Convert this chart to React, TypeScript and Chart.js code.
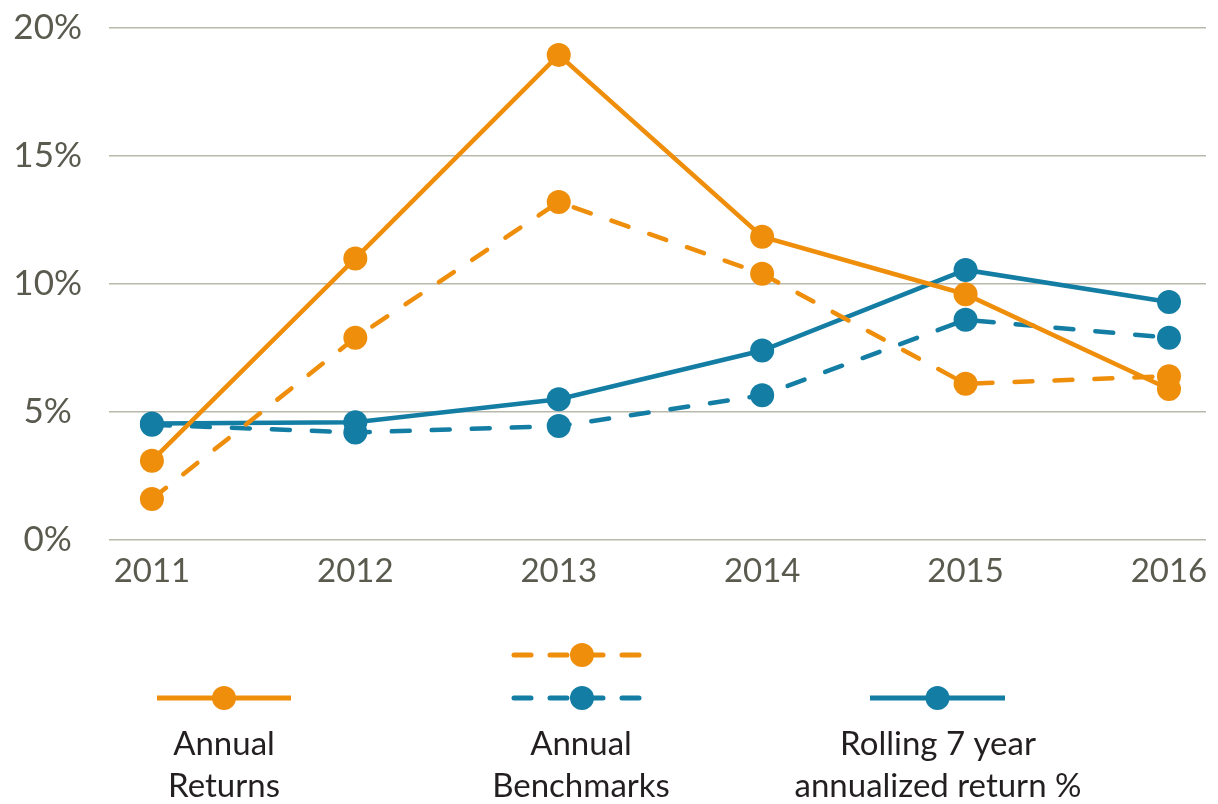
import React, { useEffect, useRef } from "react";
import { Chart, registerables } from "chart.js";

Chart.register(...registerables);

const years = [2011, 2012, 2013, 2014, 2015, 2016];
const annualReturns = [3.1, 11.0, 18.95, 11.85, 9.6, 5.9];
const orangeBenchmark = [1.6, 7.9, 13.2, 10.4, 6.1, 6.4];
const rollingReturn = [4.55, 4.6, 5.5, 7.4, 10.55, 9.3];
const blueBenchmark = [4.5, 4.2, 4.45, 5.65, 8.6, 7.9];
const yTickValues = [0, 5, 10, 15, 20];

const ORANGE = "#EE8E0B";
const BLUE = "#137DA4";
const GRID = "#b8b9ab";
const TICK = "#5a5a4f";
const FONT = "Lato, 'Open Sans', sans-serif";

const legendPlugin = {
  id: "customLegend",
  afterDraw(chart: any) {
    const ctx = chart.ctx as CanvasRenderingContext2D;
    ctx.save();
    const drawItem = (
      x1: number,
      x2: number,
      y: number,
      color: string,
      dashed: boolean
    ) => {
      ctx.strokeStyle = color;
      ctx.lineWidth = 5;
      if (dashed) {
        ctx.lineCap = "round";
        ctx.setLineDash([17, 19]);
      } else {
        ctx.lineCap = "butt";
        ctx.setLineDash([]);
      }
      ctx.beginPath();
      ctx.moveTo(x1, y);
      ctx.lineTo(x2, y);
      ctx.stroke();
      ctx.setLineDash([]);
      ctx.fillStyle = color;
      ctx.beginPath();
      ctx.arc((x1 + x2) / 2, y, 12, 0, Math.PI * 2);
      ctx.fill();
    };
    drawItem(157, 291, 698, ORANGE, false);
    drawItem(514, 650, 655, ORANGE, true);
    drawItem(514, 650, 698, BLUE, true);
    drawItem(870, 1005, 698, BLUE, false);

    ctx.fillStyle = "#231f20";
    ctx.font = `33px ${FONT}`;
    ctx.textAlign = "center";
    ctx.textBaseline = "alphabetic";
    const texts: [number, string, string][] = [
      [224, "Annual", "Returns"],
      [581, "Annual", "Benchmarks"],
      [938, "Rolling 7 year", "annualized return %"],
    ];
    for (const [x, a, b] of texts) {
      ctx.fillText(a, x, 755);
      ctx.fillText(b, x, 797);
    }
    ctx.restore();
  },
};

export default function App() {
  const ref = useRef<HTMLCanvasElement | null>(null);
  useEffect(() => {
    document.body.style.margin = "0";
    const canvas = ref.current!;
    const mk = (
      label: string,
      vals: number[],
      color: string,
      dashed: boolean,
      order: number
    ) => ({
      label,
      data: years.map((y, i) => ({ x: y, y: vals[i] })),
      borderColor: color,
      backgroundColor: color,
      borderWidth: 4.5,
      borderDash: dashed ? [18, 22] : [],
      borderCapStyle: dashed ? "round" : "butt",
      pointRadius: 12,
      pointBorderWidth: 0,
      pointHoverRadius: 12,
      pointBackgroundColor: color,
      tension: 0,
      order,
    });
    const chart = new Chart(canvas, {
      type: "line",
      data: {
        datasets: [
          mk("Annual Returns", annualReturns, ORANGE, false, 0),
          mk("Annual Benchmark (returns)", orangeBenchmark, ORANGE, true, 1),
          mk("Rolling 7 year annualized return %", rollingReturn, BLUE, false, 2),
          mk("Annual Benchmark (rolling)", blueBenchmark, BLUE, true, 3),
        ] as any,
      },
      plugins: [legendPlugin],
      options: {
        animation: false,
        responsive: false,
        layout: { padding: { top: 28, right: 11, bottom: 0, left: 0 } },
        plugins: {
          legend: { display: false },
          tooltip: { enabled: false },
        },
        scales: {
          x: {
            type: "linear",
            min: 2010.789,
            max: 2016.182,
            afterFit: (s: any) => {
              s.height = 264;
              s.paddingLeft = 0;
              s.paddingRight = 0;
            },
            afterBuildTicks: (s: any) => {
              s.ticks = years.map((v) => ({ value: v }));
            },
            grid: { display: false, drawTicks: false },
            border: { display: false },
            ticks: {
              padding: 12,
              color: TICK,
              font: { family: FONT, size: 33 },
              callback: (v: any) => String(v),
              maxRotation: 0,
            },
          },
          y: {
            min: 0,
            max: 20,
            afterFit: (s: any) => {
              s.width = 109;
              s.paddingTop = 0;
              s.paddingBottom = 0;
            },
            afterBuildTicks: (s: any) => {
              s.ticks = yTickValues.map((v) => ({ value: v }));
            },
            grid: { color: GRID, lineWidth: 1.5, drawTicks: false },
            border: { display: false },
            ticks: {
              padding: 27,
              crossAlign: "center",
              color: TICK,
              font: { family: FONT, size: 35 },
              callback: (v: any) => v + "%",
            },
          },
        },
      } as any,
    });
    return () => chart.destroy();
  }, []);
  return (
    <canvas
      ref={ref}
      width={1218}
      height={804}
      style={{ display: "block", width: 1218, height: 804 }}
    />
  );
}
